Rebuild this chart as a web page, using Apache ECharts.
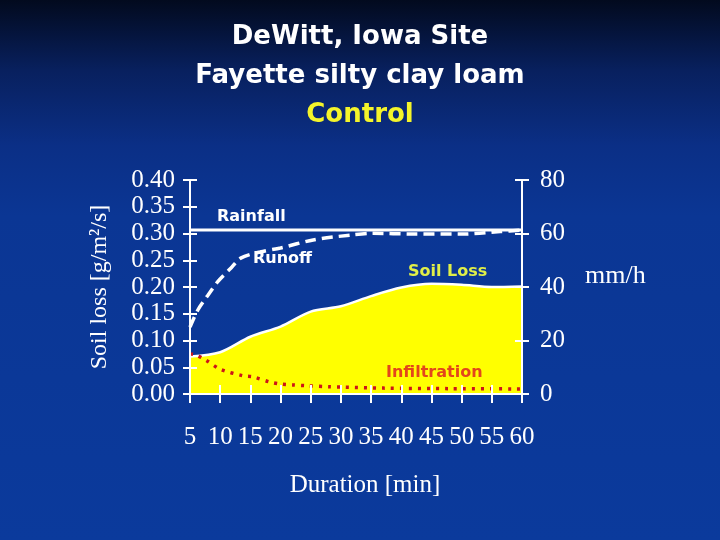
<!DOCTYPE html>
<html>
<head>
<meta charset="utf-8">
<script src="https://cdn.jsdelivr.net/npm/echarts@6/dist/echarts.min.js"></script>
<style>
html,body{margin:0;padding:0;}
#chart{width:720px;height:540px;background:linear-gradient(180deg,#020a1e 0%,#08205e 13%,#0b2f86 27%,#0b3694 40%,#0b3a9c 100%);}
</style>
</head>
<body>
<div id="chart"></div>
<script>
// ---- data ----
const xTicks = [5,10,15,20,25,30,35,40,45,50,55,60];
const soilLossMin = [5,10,15,20,25,30,35,40,45,50,55,60];
const soilLoss = [0.070,0.078,0.107,0.126,0.154,0.164,0.183,0.199,0.206,0.204,0.200,0.201];
const rainfallMin = [5,60];
const rainfall = [61.3,61.3];
const runoffMin = [5,6.3,8,9.6,11.8,13.4,16.6,20,25.4,31.5,35.3,42,50,56.4,60];
const runoff = [25,31.4,37,42,47.1,50.8,53.1,54.6,57.6,59.4,60.1,59.8,59.8,60.7,61.3];
const infilMin = [5,6,7.6,10,13.8,15.4,18.2,20,22,24.2,28.2,30,37,48,60];
const infil = [15,14.6,12.7,9.3,6.8,6.4,4.5,3.7,3.4,3.1,2.7,2.6,2.2,2.0,1.9];
const leftTicks = ['0.00','0.05','0.10','0.15','0.20','0.25','0.30','0.35','0.40'];
const rightTicks = ['0','20','40','60','80'];

const pair = (xs, ys) => xs.map((x, i) => [x, ys[i]]);

const chart = echarts.init(document.getElementById('chart'), null, {renderer:'canvas'});
const serif = '"Liberation Serif", "Times New Roman", serif';
const bold = '"DejaVu Sans", Verdana, sans-serif';
const white = '#ffffff';

const axisLineStyle = {show: true, lineStyle: {color: white, width: 2}};
const gridRect = {left: 190, right: 198, top: 180, bottom: 146, containLabel: false};

const option = {
  backgroundColor: 'transparent',
  animation: false,
  title: {
    text: 'DeWitt, Iowa Site\nFayette silty clay loam',
    subtext: 'Control',
    left: 'center',
    top: 13,
    itemGap: 0,
    textStyle: {color: white, fontFamily: bold, fontWeight: 'bold', fontSize: 26, lineHeight: 39},
    subtextStyle: {color: '#f4f42a', fontFamily: bold, fontWeight: 'bold', fontSize: 26, lineHeight: 39}
  },
  grid: [Object.assign({}, gridRect), Object.assign({}, gridRect)],
  xAxis: [
    {
      gridIndex: 0, type: 'value', min: 5, max: 60, interval: 5, position: 'bottom',
      name: 'Duration [min]', nameLocation: 'middle', nameGap: 79,
      nameTextStyle: {color: white, fontFamily: serif, fontSize: 25, padding: [0,0,0,18]},
      axisLine: axisLineStyle,
      axisTick: {show: true, inside: false, length: 9, lineStyle: {color: white, width: 2}},
      axisLabel: {color: white, fontFamily: serif, fontSize: 25, margin: 31,
        formatter: v => (xTicks.indexOf(v) >= 0 ? String(v) : '')},
      splitLine: {show: false}
    },
    {
      gridIndex: 1, type: 'value', min: 5, max: 60, interval: 5, position: 'bottom', z: 20,
      axisLine: axisLineStyle,
      axisTick: {show: true, inside: true, length: 9, lineStyle: {color: white, width: 2}},
      axisLabel: {show: false}, splitLine: {show: false}
    }
  ],
  yAxis: [
    {
      gridIndex: 0, type: 'value', min: 0, max: 0.4, interval: 0.05, position: 'left',
      name: 'Soil loss [g/m²/s]', nameLocation: 'middle', nameGap: 78, nameRotate: 90,
      nameTextStyle: {color: white, fontFamily: serif, fontSize: 24},
      axisLine: axisLineStyle,
      axisTick: {show: true, inside: false, length: 7, lineStyle: {color: white, width: 2}},
      axisLabel: {color: white, fontFamily: serif, fontSize: 25, margin: 15,
        formatter: v => leftTicks[Math.round(v / 0.05)] || '', padding: [5,0,0,0]},
      splitLine: {show: false}
    },
    {
      gridIndex: 0, type: 'value', min: 0, max: 80, interval: 20, position: 'right',
      axisLine: axisLineStyle,
      axisTick: {show: true, inside: false, length: 7, lineStyle: {color: white, width: 2}},
      axisLabel: {color: white, fontFamily: serif, fontSize: 25, margin: 18,
        formatter: v => rightTicks[Math.round(v / 20)] || '', padding: [5,0,0,0]},
      splitLine: {show: false}
    },
    {
      gridIndex: 1, type: 'value', min: 0, max: 0.4, interval: 0.05, position: 'left', z: 20,
      axisLine: axisLineStyle,
      axisTick: {show: true, inside: true, length: 7, lineStyle: {color: white, width: 2}},
      axisLabel: {show: false}, splitLine: {show: false}
    },
    {
      gridIndex: 1, type: 'value', min: 0, max: 80, interval: 20, position: 'right', z: 20,
      axisLine: axisLineStyle,
      axisTick: {show: true, inside: true, length: 7, lineStyle: {color: white, width: 2}},
      axisLabel: {show: false}, splitLine: {show: false}
    }
  ],
  series: [
    {
      name: 'Soil Loss', type: 'line', xAxisIndex: 0, yAxisIndex: 0,
      data: pair(soilLossMin, soilLoss), smooth: 0.3, showSymbol: false, symbol: 'none',
      lineStyle: {color: white, width: 2.5},
      areaStyle: {color: '#ffff00', opacity: 1},
      z: 2
    },
    {
      name: 'Infiltration', type: 'line', xAxisIndex: 0, yAxisIndex: 1,
      data: pair(infilMin, infil), smooth: 0.3, showSymbol: false, symbol: 'none',
      lineStyle: {color: '#cc1418', width: 3.5, type: [3, 6]},
      z: 3
    },
    {
      name: 'Runoff', type: 'line', xAxisIndex: 0, yAxisIndex: 1,
      data: pair(runoffMin, runoff), smooth: 0.3, showSymbol: false, symbol: 'none',
      lineStyle: {color: white, width: 3.5, type: [11, 6]},
      z: 3
    },
    {
      name: 'Rainfall', type: 'line', xAxisIndex: 0, yAxisIndex: 1,
      data: pair(rainfallMin, rainfall), showSymbol: false, symbol: 'none',
      lineStyle: {color: white, width: 3},
      z: 4
    },
    // invisible helper series binding the inner-tick axes of the overlay grid
    {type: 'line', xAxisIndex: 1, yAxisIndex: 2, data: pair(soilLossMin, soilLoss), silent: true,
      symbol: 'none', lineStyle: {opacity: 0}, tooltip: {show: false}},
    {type: 'line', xAxisIndex: 1, yAxisIndex: 3, data: pair(rainfallMin, rainfall), silent: true,
      symbol: 'none', lineStyle: {opacity: 0}, tooltip: {show: false}}
  ],
  graphic: [
    {type: 'text', left: 585, top: 263, style: {text: 'mm/h', fill: white, font: '26px "Liberation Serif", "Times New Roman", serif'}},
    {type: 'text', left: 217, top: 209, style: {text: 'Rainfall', fill: white, font: 'bold 16px "DejaVu Sans", Verdana, sans-serif'}},
    {type: 'text', left: 253, top: 251, style: {text: 'Runoff', fill: white, font: 'bold 16px "DejaVu Sans", Verdana, sans-serif'}},
    {type: 'text', left: 408, top: 264, style: {text: 'Soil Loss', fill: '#e0ef48', font: 'bold 16px "DejaVu Sans", Verdana, sans-serif'}},
    {type: 'text', left: 386, top: 365, z: 10, style: {text: 'Infiltration', fill: '#e3461b', font: 'bold 16px "DejaVu Sans", Verdana, sans-serif'}}
  ]
};
chart.setOption(option);
</script>
</body>
</html>
